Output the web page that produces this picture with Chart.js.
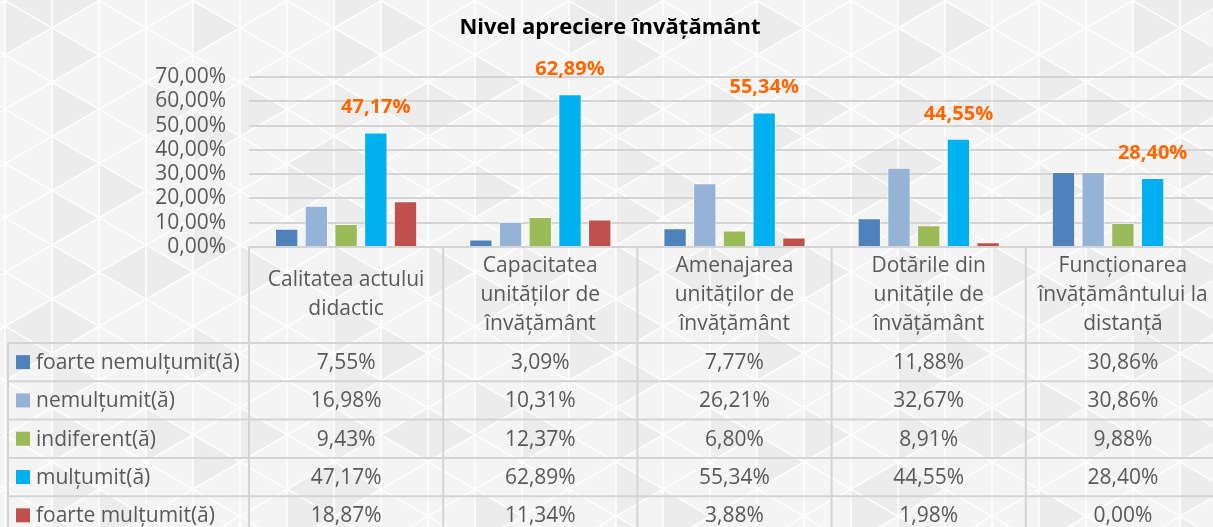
<!DOCTYPE html>
<html lang="ro">
<head>
<meta charset="utf-8">
<title>Nivel apreciere învățământ</title>
<script src="https://cdn.jsdelivr.net/npm/chart.js@4/dist/chart.umd.min.js"></script>
<style>
  html, body { margin: 0; padding: 0; overflow: hidden; background: #f3f3f3; }
  #wrap { width: 1220px; height: 527px; }
</style>
</head>
<body>
<div id="wrap"><canvas id="chart" width="1220" height="527"></canvas></div>
<script>
// Categories (multi-line headers of the data table)
const categories = [
  ['Calitatea actului', 'didactic'],
  ['Capacitatea', 'unităților de', 'învățământ'],
  ['Amenajarea', 'unităților de', 'învățământ'],
  ['Dotările din', 'unitățile de', 'învățământ'],
  ['Funcționarea', 'învățământului la', 'distanță']
];

// Series names (rows of the data table)
const seriesNames = [
  'foarte nemulțumit(ă)',
  'nemulțumit(ă)',
  'indiferent(ă)',
  'mulțumit(ă)',
  'foarte mulțumit(ă)'
];

// Series values, in percent
const foarteNemultumit = [7.55, 3.09, 7.77, 11.88, 30.86];
const nemultumit       = [16.98, 10.31, 26.21, 32.67, 30.86];
const indiferent       = [9.43, 12.37, 6.80, 8.91, 9.88];
const multumit         = [47.17, 62.89, 55.34, 44.55, 28.40];
const foarteMultumit   = [18.87, 11.34, 3.88, 1.98, 0.00];

// Value axis ticks
const yTicks = [0, 10, 20, 30, 40, 50, 60, 70];

const seriesColors = ['#4F81BD', '#95B3D7', '#9BBB59', '#00B0F0', '#C0504D'];
const seriesValues = [foarteNemultumit, nemultumit, indiferent, multumit, foarteMultumit];
const labelledSeries = 3; // "mulțumit(ă)" carries the value labels

const TEXT = '#595959';
const FONT = '"Open Sans", "Noto Sans", sans-serif';
const fmt = v => v.toFixed(2).replace('.', ',') + '%';

// Decorative triangular lattice behind everything
const latticeBackground = {
  id: 'latticeBackground',
  beforeDraw(chart) {
    const ctx = chart.ctx;
    const W = chart.width, H = chart.height;
    const step = 47;                 // distance between vertical lines
    const side = 2 * step / Math.sqrt(3);
    const x0 = 5, y0 = 0.7;
    const t = Math.tan(Math.PI / 6);
    ctx.save();
    ctx.fillStyle = '#f4f4f4';
    ctx.fillRect(0, 0, W, H);

    // shaded triangles, scattered by a fixed index rule
    ctx.fillStyle = '#ececec';
    for (let k = -1; k < 27; k++) {
      const X1 = x0 + step * k, X2 = X1 + step;
      const a = y0 + k * side / 2;
      for (let m = -Math.ceil(k / 2) - 2; m < 14 - Math.floor(k / 2); m++) {
        for (let tp = 0; tp < 2; tp++) {
          const h = Math.abs(k * k * 5 + m * m * 3 + k * m * 7 + tp * 11 + k + 2 * m);
          if (h % 6 !== 0) continue;
          ctx.beginPath();
          if (tp === 0) {
            ctx.moveTo(X1, a + side * m);
            ctx.lineTo(X1, a + side * (m + 1));
            ctx.lineTo(X2, a + side * m + side / 2);
          } else {
            ctx.moveTo(X2, a + side * m + side / 2);
            ctx.lineTo(X2, a + side * (m + 1) + side / 2);
            ctx.lineTo(X1, a + side * (m + 1));
          }
          ctx.closePath();
          ctx.fill();
        }
      }
    }

    // white lattice lines
    ctx.strokeStyle = 'rgba(255,255,255,0.9)';
    ctx.lineWidth = 1.6;
    ctx.beginPath();
    for (let x = x0; x <= W + step; x += step) {
      ctx.moveTo(x, 0); ctx.lineTo(x, H);
    }
    for (let m = -40; m <= 40; m++) {
      const c = y0 + side * m;
      ctx.moveTo(0, c - x0 * t); ctx.lineTo(W, c + (W - x0) * t);
      ctx.moveTo(0, c + x0 * t); ctx.lineTo(W, c - (W - x0) * t);
    }
    ctx.stroke();
    ctx.restore();
  }
};

// Value labels above the "mulțumit(ă)" bars
const barValueLabels = {
  id: 'barValueLabels',
  afterDatasetsDraw(chart) {
    const ctx = chart.ctx;
    const meta = chart.getDatasetMeta(labelledSeries);
    const data = chart.data.datasets[labelledSeries].data;
    ctx.save();
    ctx.font = 'bold 20px ' + FONT;
    ctx.fillStyle = '#FF6600';
    ctx.textAlign = 'center';
    ctx.textBaseline = 'middle';
    meta.data.forEach((bar, i) => {
      ctx.fillText(fmt(data[i]), bar.x, bar.y - 25);
    });
    ctx.restore();
  }
};

// Data table under the plot: category headers, legend keys and values
const dataTable = {
  id: 'dataTable',
  afterDraw(chart) {
    const ctx = chart.ctx;
    const xs = chart.scales.x;
    const area = chart.chartArea;
    const n = categories.length;
    const colW = (area.right - area.left) / n;
    const top = area.bottom;
    const headH = 96;
    const rowH = 38.3;
    const legendLeft = 8;
    const right = area.right;
    const bottom = top + headH + rowH * seriesNames.length + 4;

    ctx.save();
    ctx.strokeStyle = '#d4d4d4';
    ctx.lineWidth = 2;
    ctx.beginPath();
    // outer top line and vertical separators
    ctx.moveTo(area.left, top); ctx.lineTo(right, top);
    for (let i = 0; i <= n; i++) {
      const x = area.left + colW * i;
      ctx.moveTo(x, top); ctx.lineTo(x, bottom);
    }
    ctx.moveTo(legendLeft, top + headH); ctx.lineTo(legendLeft, bottom);
    for (let r = 0; r <= seriesNames.length; r++) {
      const y = top + headH + rowH * r;
      ctx.moveTo(legendLeft, y); ctx.lineTo(right, y);
    }
    ctx.stroke();

    ctx.font = '21px ' + FONT;
    ctx.fillStyle = TEXT;
    ctx.textBaseline = 'middle';
    ctx.textAlign = 'center';

    // category headers
    const lineH = 29;
    categories.forEach((lines, i) => {
      const cx = xs.getPixelForValue(i);
      const cy = top + headH / 2;
      lines.forEach((ln, j) => {
        ctx.fillText(ln, cx, cy + (j - (lines.length - 1) / 2) * lineH);
      });
    });

    // rows
    seriesNames.forEach((name, r) => {
      const cy = top + headH + rowH * r + rowH / 2;
      ctx.fillStyle = seriesColors[r];
      ctx.fillRect(16, cy - 7, 14, 14);
      ctx.fillStyle = TEXT;
      ctx.textAlign = 'left';
      ctx.fillText(name, 36, cy + 1);
      ctx.textAlign = 'center';
      seriesValues[r].forEach((v, i) => {
        ctx.fillText(fmt(v), xs.getPixelForValue(i), cy + 1);
      });
    });
    ctx.restore();
  }
};

new Chart(document.getElementById('chart'), {
  type: 'bar',
  data: {
    labels: categories,
    datasets: seriesNames.map((name, i) => ({
      label: name,
      data: seriesValues[i],
      backgroundColor: seriesColors[i],
      borderColor: 'rgba(255,255,255,0.55)',
      borderWidth: 1,
      barPercentage: 0.785,
      categoryPercentage: 0.765
    }))
  },
  options: {
    responsive: false,
    animation: false,
    devicePixelRatio: 1,
    layout: { padding: { left: 0, right: 0, top: 0, bottom: 280 } },
    plugins: {
      legend: { display: false },
      tooltip: { enabled: true },
      title: {
        display: true,
        text: 'Nivel apreciere învățământ',
        color: '#000000',
        font: { family: FONT, size: 22, weight: 'bold', lineHeight: 1.2 },
        padding: { top: 15, bottom: 35.6 }
      }
    },
    scales: {
      x: {
        display: false,
        grid: { display: false }
      },
      y: {
        min: yTicks[0],
        max: yTicks[yTicks.length - 1],
        afterFit(scale) { scale.width = 249; },
        afterBuildTicks(scale) { scale.ticks = yTicks.map(v => ({ value: v })); },
        border: { display: false },
        grid: { color: '#d4d4d4', lineWidth: 2, drawTicks: false },
        ticks: {
          autoSkip: false,
          padding: 23,
          color: TEXT,
          font: { family: FONT, size: 21 },
          callback: v => fmt(v)
        }
      }
    }
  },
  plugins: [latticeBackground, barValueLabels, dataTable]
});
</script>
</body>
</html>
